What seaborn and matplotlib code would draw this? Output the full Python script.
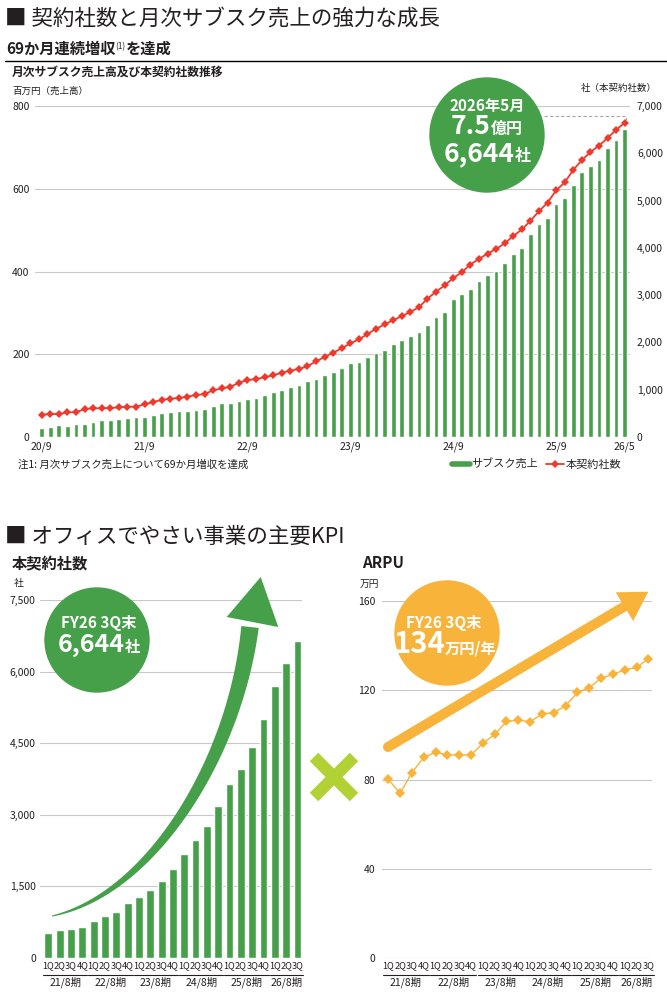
import numpy as np
import pandas as pd
import matplotlib
matplotlib.use("Agg")
import matplotlib.pyplot as plt
import seaborn as sns
from matplotlib.patches import Circle, Polygon
from matplotlib.lines import Line2D
from matplotlib.transforms import blended_transform_factory

sns.set_theme(style="white")
JP = ['Noto Sans CJK JP', 'DejaVu Sans']
NUM = ['Liberation Sans Narrow', 'Noto Sans CJK JP', 'DejaVu Sans']
plt.rcParams['font.family'] = JP

GREEN = '#46A04A'
RED = '#EE3A2C'
ORANGE = '#F8B33B'
LIME = '#B1D135'
GRID = '#C8C8C8'
TXT = '#231F20'

# ---------------- data ----------------
MONTHLY_SALES = [22, 23, 30, 27, 32, 32, 36, 40, 40, 43, 46, 48, 49, 53, 57, 60, 63, 64,
                 66, 68, 74, 81, 82, 86, 93, 94, 102, 109, 113, 121, 126, 135, 140, 151,
                 158, 166, 178, 182, 194, 204, 210, 224, 234, 243, 254, 270, 290, 303,
                 333, 346, 357, 378, 391, 402, 421, 442, 458, 490, 516, 530, 563, 577,
                 609, 640, 654, 669, 699, 718, 745]
MONTHLY_CONTRACTS = [472, 486, 486, 522, 522, 592, 606, 606, 613, 627, 641, 641, 691, 740,
                     783, 811, 825, 853, 888, 909, 987, 1029, 1058, 1149, 1206, 1220, 1269,
                     1304, 1361, 1403, 1438, 1495, 1600, 1692, 1785, 1876, 1981, 2065, 2177,
                     2289, 2380, 2471, 2555, 2646, 2744, 2926, 3073, 3206, 3360, 3486, 3647,
                     3766, 3878, 3976, 4095, 4249, 4389, 4571, 4774, 4956, 5215, 5383, 5649,
                     5852, 6027, 6160, 6321, 6496, 6644]
MONTH_TICK_POS = [0, 12, 24, 36, 48, 60, 68]
MONTH_TICK_LABELS = ['20/9', '21/9', '22/9', '23/9', '24/9', '25/9', '26/5']

QUARTERS = ['1Q', '2Q', '3Q', '4Q'] * 5 + ['1Q', '2Q', '3Q']
FISCAL_YEARS = ['21/8期', '22/8期', '23/8期', '24/8期', '25/8期', '26/8期']
FY_SIZES = [4, 4, 4, 4, 4, 3]
Q_CONTRACTS = [528, 590, 611, 653, 778, 882, 965, 1153, 1278, 1424, 1611, 1861, 2174,
               2465, 2757, 3194, 3653, 3965, 4424, 5007, 5694, 6174, 6644]
Q_ARPU = [80.1, 73.8, 83.1, 89.9, 92.2, 91.0, 91.0, 91.0, 96.2, 100.2, 106.0, 106.6,
          105.9, 109.3, 110.0, 113.0, 119.0, 121.2, 125.3, 127.2, 129.1, 130.2, 134.1]

# ---------------- figure ----------------
W, H = 667, 1001
fig = plt.figure(figsize=(W / 100, H / 100), dpi=100)
fig.patch.set_facecolor('white')


def rect(x0, y0, x1, y1):
    return [x0 / W, 1 - y1 / H, (x1 - x0) / W, (y1 - y0) / H]


def style_ticks(ax, size=7.5, xsize=None):
    for lab in ax.get_yticklabels():
        lab.set_family(NUM)
        lab.set_fontsize(size)
        lab.set_color(TXT)
    for lab in ax.get_xticklabels():
        lab.set_family(NUM)
        lab.set_fontsize(xsize or size)
        lab.set_color(TXT)


# ---- top chart ----
df_m = pd.DataFrame({'idx': np.arange(len(MONTHLY_SALES)),
                     'sales': MONTHLY_SALES, 'contracts': MONTHLY_CONTRACTS})
ax1 = fig.add_axes(rect(35, 106, 630, 437))
sns.barplot(data=df_m, x='idx', y='sales', color=GREEN, saturation=1, width=0.55,
            ax=ax1, zorder=2)
ax1.set_ylim(0, 800)
ax1.set_yticks([0, 200, 400, 600, 800])
ax1.set_yticklabels(['0', '200', '400', '600', '800'])
ax1.yaxis.grid(True, color=GRID, lw=0.8)
ax1.set_axisbelow(True)
for s in ax1.spines.values():
    s.set_visible(False)
ax1.set_xlabel('')
ax1.set_ylabel('')
ax1.tick_params(length=0, pad=4)
ax1.tick_params(axis='x', pad=3)

ax2 = ax1.twinx()
sns.lineplot(data=df_m, x='idx', y='contracts', color=RED, lw=1.3, marker='D',
             markersize=3.6, markeredgewidth=0, ax=ax2, zorder=3)
ax2.set_ylim(0, 7000)
ax2.set_yticks(range(0, 7001, 1000))
ax2.set_yticklabels([f'{v:,}' for v in range(0, 7001, 1000)])
for s in ax2.spines.values():
    s.set_visible(False)
ax2.set_xlabel('')
ax2.set_ylabel('')
ax2.tick_params(length=0, pad=5)
ax1.set_xlim(-0.78, 68.62)
ax2.set_xlim(-0.78, 68.62)
ax1.set_xticks(MONTH_TICK_POS)
ax1.set_xticklabels(MONTH_TICK_LABELS)
style_ticks(ax1)
style_ticks(ax2)

fig.legend(handles=[Line2D([], [], color=GREEN, lw=4),
                    Line2D([], [], color=RED, lw=1.3, marker='D', markersize=3.6,
                           markeredgewidth=0)],
           labels=['サブスク売上', '本契約社数'], loc='center left',
           bbox_to_anchor=(452 / W, 1 - 464 / H), ncol=2, frameon=False, fontsize=8,
           handlelength=1.6, handletextpad=0.15, columnspacing=0.7, borderaxespad=0,
           borderpad=0)

# ---- bottom left: contracts ----
df_q = pd.DataFrame({'idx': np.arange(len(Q_CONTRACTS)), 'q': QUARTERS,
                     'contracts': Q_CONTRACTS, 'arpu': Q_ARPU})
ax3 = fig.add_axes(rect(40, 600, 302, 958))
sns.barplot(data=df_q, x='idx', y='contracts', color=GREEN, saturation=1, width=0.7,
            ax=ax3, zorder=2)
ax3.set_ylim(0, 7500)
ax3.set_yticks([0, 1500, 3000, 4500, 6000, 7500])
ax3.set_yticklabels(['0', '1,500', '3,000', '4,500', '6,000', '7,500'])
ax3.yaxis.grid(True, color=GRID, lw=0.8)
ax3.set_axisbelow(True)
for s in ax3.spines.values():
    s.set_visible(False)
ax3.set_xlabel('')
ax3.set_ylabel('')
ax3.set_xlim(-0.73, 22.4)
ax3.set_xticks(range(len(QUARTERS)))
ax3.set_xticklabels(QUARTERS)
ax3.tick_params(length=0, pad=2)
ax3.tick_params(axis='y', pad=3)
style_ticks(ax3, 7.5, 6.6)

# ---- bottom right: ARPU ----
ax4 = fig.add_axes(rect(382, 601, 652, 958))
sns.lineplot(data=df_q, x='idx', y='arpu', color=ORANGE, lw=1.0, marker='D',
             markersize=5.2, markeredgewidth=0, ax=ax4, zorder=3)
ax4.set_ylim(0, 160)
ax4.set_yticks([0, 40, 80, 120, 160])
ax4.set_yticklabels(['0', '40', '80', '120', '160'])
ax4.yaxis.grid(True, color=GRID, lw=0.8)
ax4.set_axisbelow(True)
for s in ax4.spines.values():
    s.set_visible(False)
ax4.set_xlabel('')
ax4.set_ylabel('')
ax4.set_xlim(-0.53, 22.31)
ax4.set_xticks(range(len(QUARTERS)))
ax4.set_xticklabels(QUARTERS)
ax4.tick_params(length=0, pad=2)
ax4.tick_params(axis='y', pad=5)
style_ticks(ax4, 7.5, 6.6)

# ---- overlay in pixel coordinates ----
ov = fig.add_axes([0, 0, 1, 1], zorder=10)
ov.set_xlim(0, W)
ov.set_ylim(H, 0)
ov.axis('off')
ov.patch.set_alpha(0)
renderer = fig.canvas.get_renderer()


def run(x, y, parts, ha='left'):
    objs = []
    cur = x
    for s, size, weight, color, dy, fam in parts:
        t = ov.text(cur, y + dy, s, fontsize=size, fontweight=weight, color=color,
                    va='baseline', ha='left', family=fam)
        cur += t.get_window_extent(renderer).width
        objs.append(t)
    if ha == 'center':
        shift = (cur - x) / 2
        for t in objs:
            px, py = t.get_position()
            t.set_position((px - shift, py))
    return objs


# headings
ov.text(5, 25, '■ 契約社数と月次サブスク売上の強力な成長', fontsize=15.5, color=TXT,
        va='baseline', ha='left')
run(6, 54, [('69か月連続増収', 11, 'bold', TXT, 0, JP),
            ('(1)', 6, 'normal', TXT, -5, JP),
            ('を達成', 11, 'bold', TXT, 0, JP)])
ov.plot([5, 667], [61, 61], color='black', lw=1.0)
ov.text(12, 76, '月次サブスク売上高及び本契約社数推移', fontsize=8.5, fontweight='bold',
        color=TXT, va='baseline')
ov.text(12, 94, '百万円（売上高）', fontsize=6.8, color=TXT, va='baseline')
ov.text(657, 91, '社（本契約社数）', fontsize=6.8, color=TXT, va='baseline', ha='right')
ov.text(18, 468, '注1: 月次サブスク売上について69か月増収を達成', fontsize=7.5, color=TXT,
        va='baseline')

ov.text(5, 543, '■ オフィスでやさい事業の主要KPI', fontsize=15.5, color=TXT,
        va='baseline', ha='left')
ov.text(12, 568, '本契約社数', fontsize=11, fontweight='bold', color=TXT, va='baseline')
ov.text(14, 586, '社', fontsize=7, color=TXT, va='baseline')
ov.text(362, 568, 'ARPU', fontsize=11, fontweight='bold', color=TXT, va='baseline')
ov.text(360, 587, '万円', fontsize=7, color=TXT, va='baseline')

# top circle + callout
ov.add_patch(Circle((487, 135), 57, color=GREEN, zorder=5))
ov.plot([544, 626, 626], [116, 116, 121], color='#A8A8A8', lw=0.8, ls=(0, (3, 2)), zorder=4)
top_txt = run(487, 111, [('2026年5月', 11, 'bold', 'white', 0, JP)], ha='center') + \
    run(487, 134, [('7.5', 19, 'bold', 'white', 0, JP), ('億円', 11.5, 'bold', 'white', 0, JP)],
        ha='center') + \
    run(487, 161, [('6,644', 19, 'bold', 'white', 0, JP), ('社', 11.5, 'bold', 'white', 0, JP)],
        ha='center')
for t in top_txt:
    t.set_zorder(6)

# bottom left circle
ov.add_patch(Circle((97, 640), 52, color=GREEN, zorder=5))
for t in run(99, 628, [('FY26 3Q末', 11, 'bold', 'white', 0, JP)], ha='center') + \
        run(99, 652, [('6,644', 18, 'bold', 'white', 0, JP), ('社', 11, 'bold', 'white', 0, JP)],
            ha='center'):
    t.set_zorder(6)

# orange circle
ov.add_patch(Circle((447, 633), 52, color=ORANGE, zorder=5))
for t in run(444, 628, [('FY26 3Q末', 11, 'bold', 'white', 0, JP)], ha='center') + \
        run(445, 653, [('134', 21, 'bold', 'white', 0, NUM),
                       ('万円/年', 11, 'bold', 'white', 0, JP)], ha='center'):
    t.set_zorder(6)

# curved green arrow
tt = np.linspace(0, 1, 80)[:, None]
P0, P1, P2, P3 = (np.array(p, float) for p in [(52, 916), (150, 895), (235, 760), (250, 627)])
B = (1 - tt) ** 3 * P0 + 3 * (1 - tt) ** 2 * tt * P1 + 3 * (1 - tt) * tt ** 2 * P2 + tt ** 3 * P3
dB = 3 * (1 - tt) ** 2 * (P1 - P0) + 6 * (1 - tt) * tt * (P2 - P1) + 3 * tt ** 2 * (P3 - P2)
nrm = np.column_stack([-dB[:, 1], dB[:, 0]]) / np.linalg.norm(dB, axis=1)[:, None]
wid = (1.0 + 16.5 * tt[:, 0] ** 0.9)[:, None]
body = np.vstack([B + nrm * wid / 2, (B - nrm * wid / 2)[::-1]])
ov.add_patch(Polygon(body, closed=True, color=GREEN, lw=0, zorder=4))
ov.add_patch(Polygon([(226.7, 617), (260.7, 577), (278.3, 627)], closed=True, color=GREEN,
                     lw=0, zorder=4))

# orange straight arrow
ov.plot([388, 626], [747, 605.5], color=ORANGE, lw=7.2, solid_capstyle='round', zorder=4)
ov.add_patch(Polygon([(615.7, 592.3), (648.3, 591.7), (633.2, 621)], closed=True,
                     color=ORANGE, lw=0, zorder=4))

# lime cross
ov.plot([314, 354], [757, 797], color=LIME, lw=8.6, solid_capstyle='butt', zorder=4)
ov.plot([314, 354], [797, 757], color=LIME, lw=8.6, solid_capstyle='butt', zorder=4)

# fiscal year grouping under quarter labels
for ax in (ax3, ax4):
    tr = blended_transform_factory(ax.transData, ov.transData)
    start = 0
    for fy, n in zip(FISCAL_YEARS, FY_SIZES):
        end = start + n - 1
        ax.plot([start - 0.45, end + 0.45], [974.5, 974.5], transform=tr, color=TXT,
                lw=0.8, clip_on=False)
        ax.text((start + end) / 2, 985, fy, transform=tr, fontsize=7.5, color=TXT,
                ha='center', va='baseline', family=NUM)
        start += n

fig.savefig('out.png', dpi=100, facecolor='white')
